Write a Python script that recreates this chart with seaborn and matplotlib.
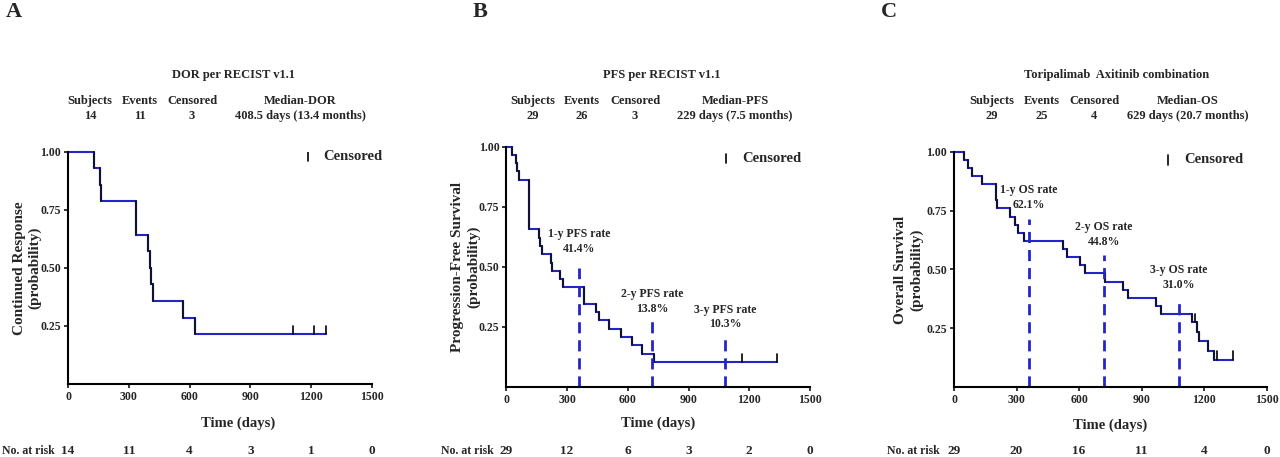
import seaborn as sns
import pandas as pd
import matplotlib.pyplot as plt
from matplotlib.transforms import blended_transform_factory

# --- data ---
# step times (days) and survival after each step
dor_time = [0, 127, 160, 165, 335, 396, 405, 410, 421, 566, 626, 1271]
dor_surv = [1.0, 0.929, 0.857, 0.786, 0.643, 0.571, 0.500, 0.429, 0.357, 0.286, 0.214, 0.214]
dor_cens = [1108, 1215, 1271]
dor_risk = [14, 11, 4, 3, 1, 0]

pfs_time = [0, 30, 49, 54, 61, 112, 163, 168, 178, 221, 227, 265, 278, 384, 445, 458,
            507, 565, 622, 669, 731, 1335]
pfs_surv = [1.0, 0.966, 0.931, 0.897, 0.862, 0.655, 0.621, 0.586, 0.552, 0.517, 0.483,
            0.448, 0.414, 0.345, 0.310, 0.276, 0.241, 0.207, 0.172, 0.138, 0.103, 0.103]
pfs_cens = [1163, 1335]
pfs_risk = [29, 12, 6, 3, 2, 0]
pfs_rates = ['41.4%', '13.8%', '10.3%']

os_time = [0, 48, 69, 86, 136, 201, 205, 269, 294, 309, 337, 525, 542, 604, 627, 724,
           812, 833, 967, 993, 1143, 1164, 1175, 1217, 1247, 1336]
os_surv = [1.0, 0.966, 0.931, 0.897, 0.862, 0.793, 0.759, 0.724, 0.690, 0.655, 0.621,
           0.586, 0.552, 0.517, 0.483, 0.448, 0.414, 0.379, 0.345, 0.310, 0.276, 0.236,
           0.197, 0.155, 0.117, 0.117]
os_cens = [1157, 1260, 1336]
os_risk = [29, 20, 16, 11, 4, 0]
os_rates = ['62.1%', '44.8%', '31.0%']

landmarks = [360, 720, 1080]
risk_days = [0, 300, 600, 900, 1200, 1500]

sns.set_theme(style='ticks')
plt.rcParams['font.family'] = ['Liberation Serif', 'DejaVu Serif']
plt.rcParams['font.weight'] = 'bold'

fig = plt.figure(figsize=(12.8, 4.57), dpi=100)
W, H = 1280, 457
blue = '#2424c8'


def fx(px):
    return px / W


def fy(py):
    return 1 - py / H


def km_panel(rect, times, surv, cens, risk, ylabel, legend_xy, ylab_x, xlab_xy):
    ax = fig.add_axes(rect)
    df = pd.DataFrame({'t': times, 's': surv})
    sns.lineplot(data=df, x='t', y='s', ax=ax, drawstyle='steps-post',
                 estimator=None, color=blue, lw=1.5, clip_on=False)
    # darker vertical segments like the original rendering
    for i in range(1, len(times)):
        if surv[i] != surv[i - 1]:
            ax.plot([times[i], times[i]], [surv[i - 1], surv[i]], color='#111133',
                    lw=1.5, clip_on=False)
    # censor ticks
    for c in cens:
        s = df.loc[df['t'] <= c, 's'].iloc[-1]
        ax.plot([c, c], [s, s + 0.035], color='black', lw=1.2)
    ax.set_xlim(0, 1500)
    ax.set_ylim(0, 1.0)
    ax.set_xticks(risk_days)
    ax.set_yticks([0.25, 0.50, 0.75, 1.00])
    ax.set_yticklabels(['0.25', '0.50', '0.75', '1.00'])
    ax.tick_params(labelsize=8.5, width=1.3, length=3, pad=2)
    for lab in ax.get_xticklabels() + ax.get_yticklabels():
        lab.set_fontweight('bold')
    sns.despine(ax=ax)
    for sp in ['left', 'bottom']:
        ax.spines[sp].set_linewidth(1.5)
        ax.spines[sp].set_color('black')
    ax.set_xlabel('Time (days)', fontsize=10.5, fontweight='bold', va='top')
    ax.xaxis.set_label_coords(*xlab_xy)
    ax.set_ylabel(ylabel, fontsize=11, fontweight='bold')
    ax.yaxis.set_label_coords(ylab_x, 0.5)
    # censored legend
    lx, ly, tx = legend_xy
    ax.plot([lx, lx], [ly - 0.02, ly + 0.02], color='black', lw=1.2)
    ax.text(tx, ly, 'Censored', fontsize=10.5, fontweight='bold', va='center')
    # at-risk row
    tr = blended_transform_factory(ax.transData, fig.transFigure)
    for d, n in zip(risk_days, risk):
        ax.text(d, fy(451), str(n), transform=tr, ha='center', va='center',
                fontsize=9.5, fontweight='bold')
    return ax


axA = km_panel([fx(68), fy(384), fx(304), 232.3 / H], dor_time, dor_surv, dor_cens,
               dor_risk, 'Continued Response\n(probability)', (1184, 0.98, 1258),
               -0.086, (0.56, -0.142))
axB = km_panel([fx(506.3), fy(386.7), fx(303.7), 240 / H], pfs_time, pfs_surv, pfs_cens,
               pfs_risk, 'Progression-Free Survival\n(probability)', (1087, 0.951, 1163),
               -0.087, (0.5, -0.126))
axC = km_panel([fx(954), fy(387.2), fx(312.7), 235.5 / H], os_time, os_surv, os_cens,
               os_risk, 'Overall Survival\n(probability)', (1028, 0.965, 1105),
               -0.099, (0.5, -0.135))


# landmark dashed lines and labels
def landmarks_draw(ax, rates, tag, tops, labely):
    for i, (d, r) in enumerate(zip(landmarks, rates)):
        ax.plot([d, d], [0, tops[i]], color=blue, lw=2, ls=(0, (4, 2.5)))
        ax.text(d, labely[i], f'{i + 1}-y {tag} rate\n{r}', ha='center', va='center',
                fontsize=8.5, fontweight='bold', linespacing=1.3)


landmarks_draw(axB, pfs_rates, 'PFS', [0.493, 0.285, 0.22], [0.605, 0.355, 0.29])
landmarks_draw(axC, os_rates, 'OS', [0.715, 0.561, 0.384], [0.805, 0.648, 0.466])

# no. at risk labels
for x0 in [2, 441, 887]:
    fig.text(fx(x0), fy(451), 'No. at risk', fontsize=8.5, fontweight='bold',
             va='center', ha='left')

# panel letters
for x0, letter in [(6, 'A'), (473, 'B'), (881, 'C')]:
    fig.text(fx(x0), fy(12), letter, fontsize=16, fontweight='bold', va='center')

# headers
headers = [
    (233, 'DOR per RECIST v1.1', [(90, 'Subjects', '14'), (140, 'Events', '11'),
                                  (192, 'Censored', '3'),
                                  (300, 'Median-DOR', '408.5 days (13.4 months)')]),
    (662, 'PFS per RECIST v1.1', [(533, 'Subjects', '29'), (582, 'Events', '26'),
                                  (635, 'Censored', '3'),
                                  (735, 'Median-PFS', '229 days (7.5 months)')]),
    (1117, 'Toripalimab  Axitinib combination',
     [(992, 'Subjects', '29'), (1042, 'Events', '25'), (1094, 'Censored', '4'),
      (1188, 'Median-OS', '629 days (20.7 months)')]),
]
for cx, title, cols in headers:
    fig.text(fx(cx), fy(75), title, ha='center', va='center', fontsize=9, fontweight='bold')
    for x0, head, val in cols:
        fig.text(fx(x0), fy(101), head, ha='center', va='center', fontsize=9,
                 fontweight='bold')
        fig.text(fx(x0), fy(116), val, ha='center', va='center', fontsize=9,
                 fontweight='bold')

fig.savefig('out.png', dpi=100)
